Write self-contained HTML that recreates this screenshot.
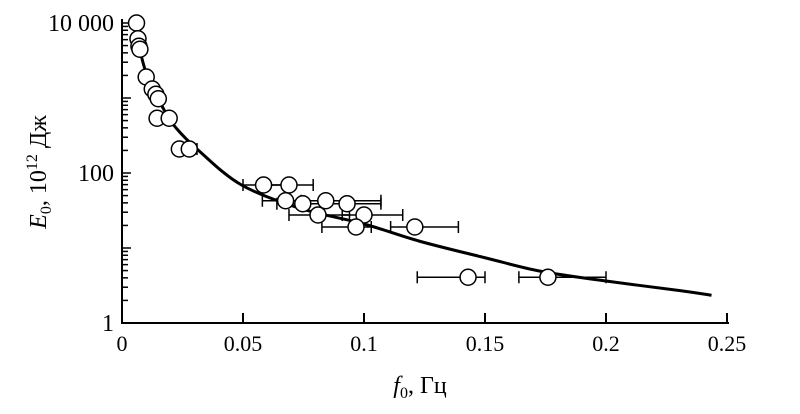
<!DOCTYPE html>
<html><head><meta charset="utf-8"><style>
html,body{margin:0;padding:0;background:#fff;}
svg{display:block;font-family:"Liberation Serif",serif;}
</style></head><body>
<svg id="chart" width="800" height="414" viewBox="0 0 800 414">
<g id="axes"></g>
<g id="curve-g"></g>
<g id="points-g"></g>
<text x="420" y="393" font-size="24" text-anchor="middle"><tspan font-style="italic">f</tspan><tspan font-size="16" dy="5">0</tspan><tspan dy="-5">, Гц</tspan></text>
<text transform="translate(46,172) rotate(-90)" font-size="24" text-anchor="middle"><tspan font-style="italic">E</tspan><tspan font-size="16" dy="5">0</tspan><tspan dy="-5">, 10</tspan><tspan font-size="16" dy="-9">12</tspan><tspan dy="9"> Дж</tspan></text>
</svg>
<script>
const xTicks=[0,0.05,0.1,0.15,0.2,0.25];
const xTickLabels=["0","0.05","0.1","0.15","0.2","0.25"];
const yTicks=[1,100,10000];
const yTickLabels=["1","100","10 000"];
const ptX=[0.006,0.0066,0.007,0.0074,0.010,0.0125,0.014,0.015,0.0145,0.0195,0.0237,0.0278,0.0585,0.069,0.0676,0.0747,0.0842,0.093,0.081,0.100,0.0967,0.121,0.143,0.176];
const ptLogE=[4.0,3.79,3.69,3.65,3.28,3.12,3.05,2.99,2.73,2.73,2.32,2.32,1.84,1.84,1.63,1.59,1.63,1.59,1.44,1.44,1.28,1.28,0.61,0.61];
const errLo=[null,null,null,null,null,null,null,null,null,null,null,0.0237,0.050,0.059,0.058,0.064,0.069,0.083,0.069,0.091,0.0826,0.111,0.122,0.164];
const errHi=[null,null,null,null,null,null,null,null,null,null,null,0.031,0.069,0.079,0.074,0.083,0.107,0.107,0.094,0.116,0.103,0.139,0.150,0.200];
const curveX=[0.0058,0.010,0.0154,0.0216,0.032,0.0494,0.0734,0.1,0.123,0.15,0.173,0.2,0.231,0.2436];
const curveLogE=[3.85,3.33,2.96,2.63,2.29,1.84,1.53,1.32,1.09,0.87,0.69,0.56,0.43,0.37];
const NS="http://www.w3.org/2000/svg";
const X0=122,XS=2420,Y0=323,YS=75;
function sx(v){return X0+v*XS;}
function sy(logv){return Y0-logv*YS;}
function mk(tag,attrs,parent){const e=document.createElementNS(NS,tag);for(const k in attrs)e.setAttribute(k,attrs[k]);parent.appendChild(e);return e;}
const axes=document.getElementById('axes');
let a=mk('line',{x1:X0,y1:19,x2:X0,y2:Y0,stroke:'#000','stroke-width':2},axes);


a=mk('line',{x1:X0-1,y1:Y0,x2:sx(0.25)+2,y2:Y0,stroke:'#000','stroke-width':2},axes);


xTicks.forEach((v,i)=>{
  if(v>0){const t=mk('line',{x1:sx(v),y1:Y0,x2:sx(v),y2:Y0-10,stroke:'#000','stroke-width':2},axes);
  
  }
  const l=mk('text',{x:sx(v),y:Y0+28,'font-size':22,'text-anchor':'middle'},axes);l.textContent=xTickLabels[i];
  
  
});
for(let d=0;d<4;d++){for(let m=1;m<10;m++){const lv=d+Math.log10(m);const major=(m===1);
  const t=mk('line',{x1:X0,y1:sy(lv),x2:X0+(major?9:6),y2:sy(lv),stroke:'#000','stroke-width':1.5},axes);
  
  }}
mk('line',{x1:X0,y1:sy(4),x2:X0+9,y2:sy(4),stroke:'#000','stroke-width':1.5},axes);
yTicks.forEach((v,i)=>{const l=mk('text',{x:X0-8,y:sy(Math.log10(v))+8,'font-size':24,'text-anchor':'end'},axes);l.textContent=yTickLabels[i];
  
  });
const cg=document.getElementById('curve-g');
const P=curveX.map((v,i)=>[sx(v),sy(curveLogE[i])]);
let d='M'+P[0][0]+','+P[0][1];
for(let i=0;i<P.length-1;i++){const p0=P[Math.max(0,i-1)],p1=P[i],p2=P[i+1],p3=P[Math.min(P.length-1,i+2)];
  const c1=[p1[0]+(p2[0]-p0[0])/6,p1[1]+(p2[1]-p0[1])/6],c2=[p2[0]-(p3[0]-p1[0])/6,p2[1]-(p3[1]-p1[1])/6];
  d+=' C'+c1.join(',')+' '+c2.join(',')+' '+p2.join(',');}
const pth=mk('path',{d:d,fill:'none',stroke:'#000','stroke-width':3,'stroke-linejoin':'round'},cg);


const pg=document.getElementById('points-g');
ptX.forEach((v,i)=>{const y=sy(ptLogE[i]);
  if(errLo[i]!==null){const g=mk('g',{stroke:'#000','stroke-width':1.5},pg);
    
    
    mk('line',{x1:sx(errLo[i]),y1:y,x2:sx(errHi[i]),y2:y},g);
    mk('line',{x1:sx(errLo[i]),y1:y-6,x2:sx(errLo[i]),y2:y+6},g);
    mk('line',{x1:sx(errHi[i]),y1:y-6,x2:sx(errHi[i]),y2:y+6},g);}
});
ptX.forEach((v,i)=>{const c=mk('circle',{cx:sx(v),cy:sy(ptLogE[i]),r:8,fill:'#fff',stroke:'#000','stroke-width':1.5},pg);
  
  });
</script>
</body></html>
